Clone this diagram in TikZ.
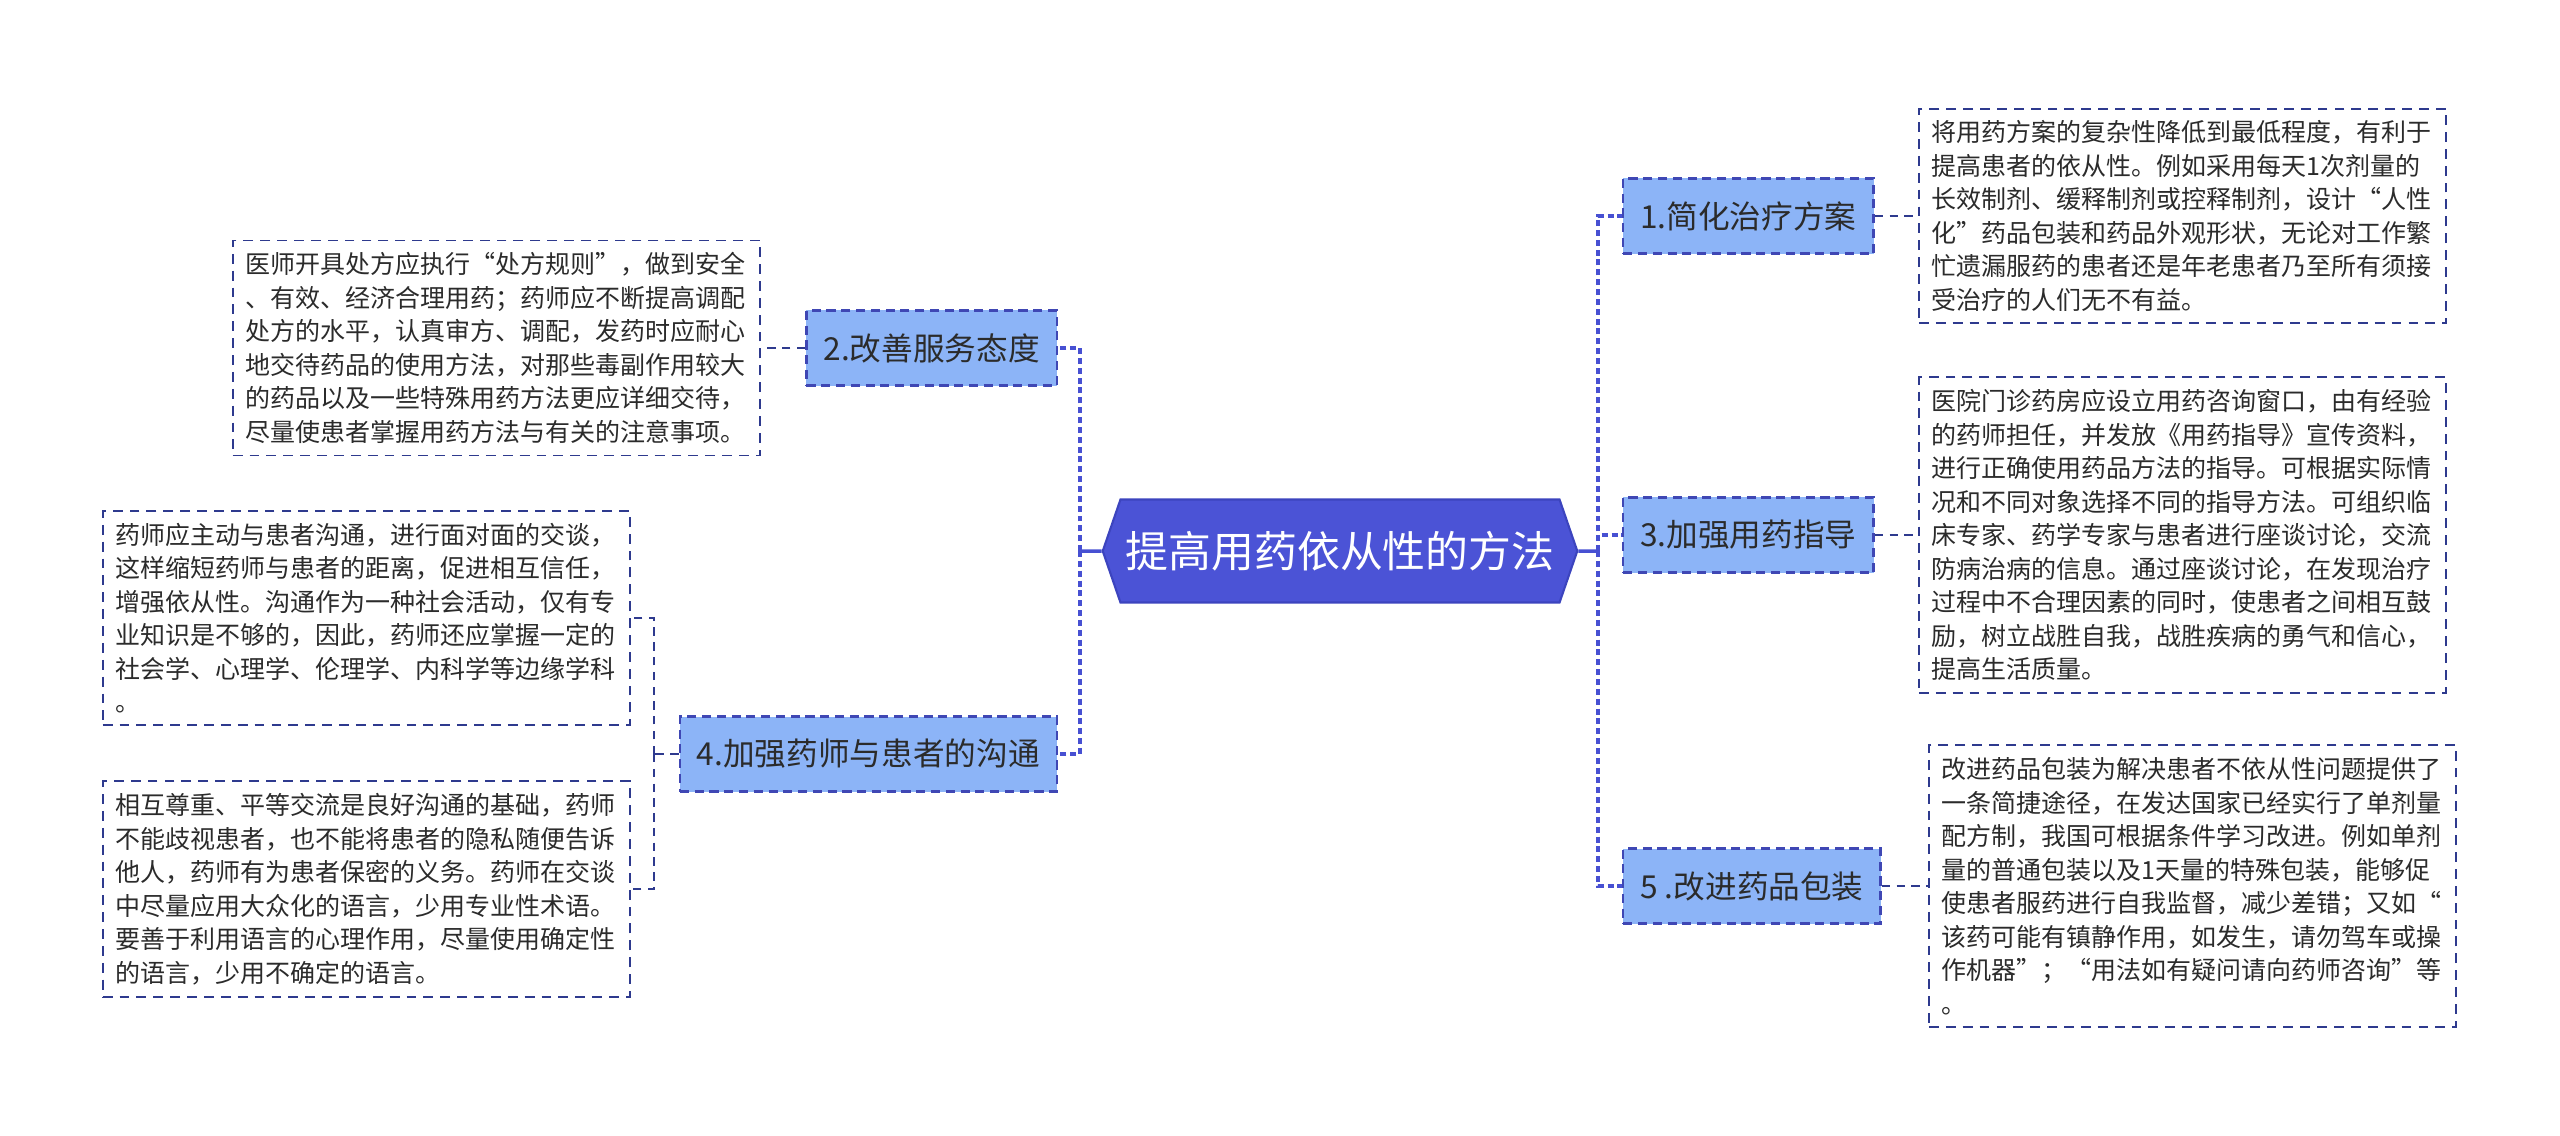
\documentclass[tikz,border=0pt]{standalone}
\usepackage{fontspec}
\setmainfont{Noto Sans CJK SC}
\usetikzlibrary{shapes.symbols}
\definecolor{rootblue}{HTML}{4B53D6}
\definecolor{rootedge}{HTML}{3C44BE}
\definecolor{topicfill}{HTML}{8CB4F7}
\definecolor{topicedge}{HTML}{3F47B4}
\definecolor{leafedge}{HTML}{2E3A8E}
\definecolor{linkblue}{HTML}{4750D2}
\definecolor{inktext}{HTML}{2B2B2B}

\begin{document}
\begin{tikzpicture}[x=0.01cm, y=-0.01cm,
	root/.style={shape=signal, signal to=west and east, signal pointer angle=142, fill=rootblue, draw=rootedge, line width=0.6pt, text=white, font=\fontsize{12.2pt}{14pt}\selectfont, minimum height=1.03cm, inner xsep=0.05cm},
	topic/.style={shape=rectangle, fill=topicfill, draw=topicedge, line width=0.7pt, dash pattern=on 2.6pt off 1.6pt, text=inktext, font=\fontsize{9pt}{11pt}\selectfont, minimum height=0.75cm, inner xsep=0.17cm},
	leaf/.style={shape=rectangle, fill=white, draw=leafedge, line width=0.55pt, dash pattern=on 2.8pt off 2pt, text=inktext, font=\fontsize{7.11pt}{9.53pt}\selectfont, text width=5.02cm, align=left, inner xsep=0.125cm, inner ysep=0.12cm},
	trunk/.style={draw=linkblue, line width=1pt},
	twig/.style={draw=linkblue, line width=1pt, dash pattern=on 1.7pt off 1.1pt},
	leaflink/.style={draw=leafedge, line width=0.55pt, dash pattern=on 2.4pt off 1.8pt},
	elbow/.style={to path={|- (\tikztotarget) \tikztonodes}}]
	
	\useasboundingbox (0,0) rectangle (2560,1135);
	
	\node[root] (c) at (1340,551) {提高用药依从性的方法};
	
	\node[topic, anchor=west] (s1) at (1622,216) {1.简化治疗方案};
	\node[topic, anchor=east] (s2) at (1058,348) {2.改善服务态度};
	\node[topic, anchor=west] (s3) at (1622,535) {3.加强用药指导};
	\node[topic, anchor=east] (s4) at (1058,754) {4.加强药师与患者的沟通};
	\node[topic, anchor=west] (s5) at (1622,886) {5 .改进药品包装};
	
	\node[leaf, anchor=west] (d1) at (1918,216) {将用药方案的复杂性降低到最低程度，有利于\\提高患者的依从性。例如采用每天1次剂量的\\长效制剂、缓释制剂或控释制剂，设计“人性\\化”药品包装和药品外观形状，无论对工作繁\\忙遗漏服药的患者还是年老患者乃至所有须接\\受治疗的人们无不有益。};
	\node[leaf, anchor=east] (d2) at (761,348) {医师开具处方应执行“处方规则”，做到安全\\、有效、经济合理用药；药师应不断提高调配\\处方的水平，认真审方、调配，发药时应耐心\\地交待药品的使用方法，对那些毒副作用较大\\的药品以及一些特殊用药方法更应详细交待，\\尽量使患者掌握用药方法与有关的注意事项。};
	\node[leaf, anchor=west] (d3) at (1918,535) {医院门诊药房应设立用药咨询窗口，由有经验\\的药师担任，并发放《用药指导》宣传资料，\\进行正确使用药品方法的指导。可根据实际情\\况和不同对象选择不同的指导方法。可组织临\\床专家、药学专家与患者进行座谈讨论，交流\\防病治病的信息。通过座谈讨论，在发现治疗\\过程中不合理因素的同时，使患者之间相互鼓\\励，树立战胜自我，战胜疾病的勇气和信心，\\提高生活质量。};
	\node[leaf, anchor=east] (d4a) at (631,618) {药师应主动与患者沟通，进行面对面的交谈，\\这样缩短药师与患者的距离，促进相互信任，\\增强依从性。沟通作为一种社会活动，仅有专\\业知识是不够的，因此，药师还应掌握一定的\\社会学、心理学、伦理学、内科学等边缘学科\\。};
	\node[leaf, anchor=east] (d4b) at (631,889) {相互尊重、平等交流是良好沟通的基础，药师\\不能歧视患者，也不能将患者的隐私随便告诉\\他人，药师有为患者保密的义务。药师在交谈\\中尽量应用大众化的语言，少用专业性术语。\\要善于利用语言的心理作用，尽量使用确定性\\的语言，少用不确定的语言。};
	\node[leaf, anchor=west] (d5) at (1928,886) {改进药品包装为解决患者不依从性问题提供了\\一条简捷途径，在发达国家已经实行了单剂量\\配方制，我国可根据条件学习改进。例如单剂\\量的普通包装以及1天量的特殊包装，能够促\\使患者服药进行自我监督，减少差错；又如“\\该药可能有镇静作用，如发生，请勿驾车或操\\作机器”；“用法如有疑问请向药师咨询”等\\。};
	
	\coordinate (lj) at (1080,551);
	\coordinate (rj) at (1598,551);
	\coordinate (fj) at (654,754);
	
	\path[trunk] (c) edge (lj);
	\path[trunk] (c) edge (rj);
	\path[twig] (lj) edge[elbow] (s2);
	\path[twig] (lj) edge[elbow] (s4);
	\path[twig] (rj) edge[elbow] (s1);
	\path[twig] (rj) edge[elbow] (s3);
	\path[twig] (rj) edge[elbow] (s5);
	
	\path[leaflink] (s1) edge (d1);
	\path[leaflink] (s2) edge (d2);
	\path[leaflink] (s3) edge (d3);
	\path[leaflink] (s5) edge (d5);
	\path[leaflink] (s4) edge (fj);
	\path[leaflink] (fj) edge[elbow] (d4a);
	\path[leaflink] (fj) edge[elbow] (d4b);
	
\end{tikzpicture}
\end{document}
